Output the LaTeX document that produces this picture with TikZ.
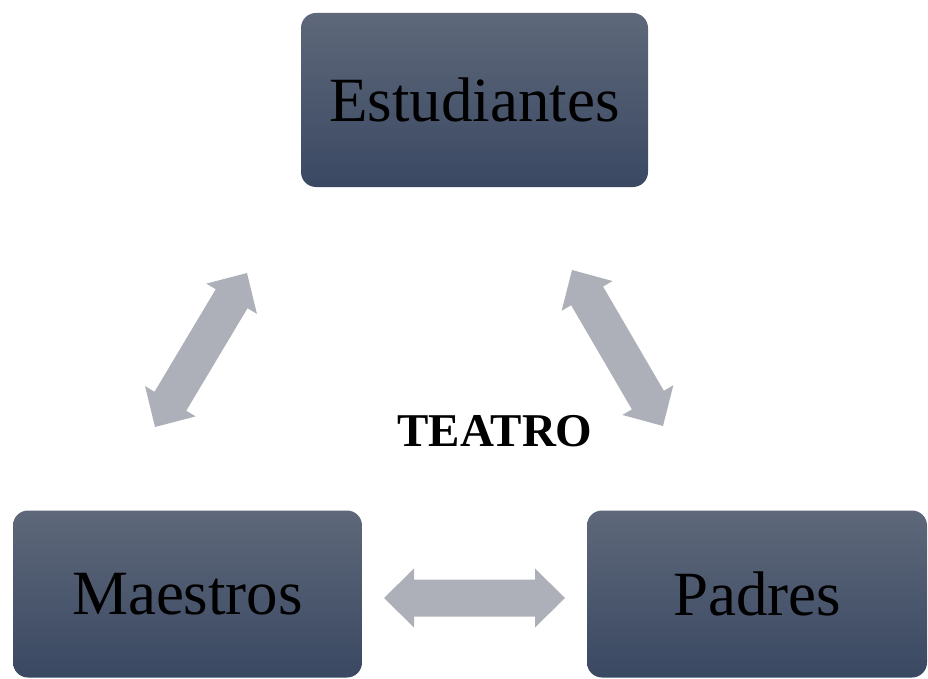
\documentclass[tikz,border=0pt]{standalone}
\usepackage{fontspec}
\setmainfont{Liberation Serif}
\usetikzlibrary{calc}

\definecolor{boxtop}{RGB}{94,104,122}
\definecolor{boxbottom}{RGB}{58,72,98}
\definecolor{arrowgray}{RGB}{173,176,184}

\tikzset{
  group/.style={rounded corners=15pt, top color=boxtop, bottom color=boxbottom,
    draw=none, inner sep=0pt, font=\fontsize{63}{70}\selectfont, text=black},
  title/.style={font=\fontsize{47}{52}\selectfont\bfseries},
}

% double block arrow between two named points
\newcommand{\link}[2]{%
  \fill[arrowgray] (#1)
    -- ($(#1)!30pt!(#2)!29.5pt!90:(#2)$) -- ($(#1)!30pt!(#2)!18.5pt!90:(#2)$)
    -- ($(#2)!30pt!(#1)!18.5pt!-90:(#1)$) -- ($(#2)!30pt!(#1)!29.5pt!-90:(#1)$)
    -- (#2)
    -- ($(#2)!30pt!(#1)!29.5pt!90:(#1)$) -- ($(#2)!30pt!(#1)!18.5pt!90:(#1)$)
    -- ($(#1)!30pt!(#2)!18.5pt!-90:(#2)$) -- ($(#1)!30pt!(#2)!29.5pt!-90:(#2)$)
    -- cycle;}

\begin{document}
\begin{tikzpicture}[x=1pt, y=-1pt]
  \useasboundingbox (0,0) rectangle (928,679);
  \node[group, minimum width=347pt, minimum height=174pt] (est) at (474.5,100) {Estudiantes};
  \node[group, minimum width=349pt, minimum height=167pt] (mae) at (187.5,594) {Maestros};
  \node[group, minimum width=340pt, minimum height=167pt] (pad) at (757,594) {Padres};
  \node[title] (teatro) at (495,431) {TEATRO};
  \begin{scope}
    \coordinate (ml) at (155,427);
    \coordinate (el) at (247,273);
    \coordinate (er) at (572,270);
    \coordinate (pr) at (663,426);
    \coordinate (mb) at (384,598);
    \coordinate (pb) at (565,598);
    \link{ml}{el}
    \link{er}{pr}
    \link{mb}{pb}
  \end{scope}
\end{tikzpicture}
\end{document}
